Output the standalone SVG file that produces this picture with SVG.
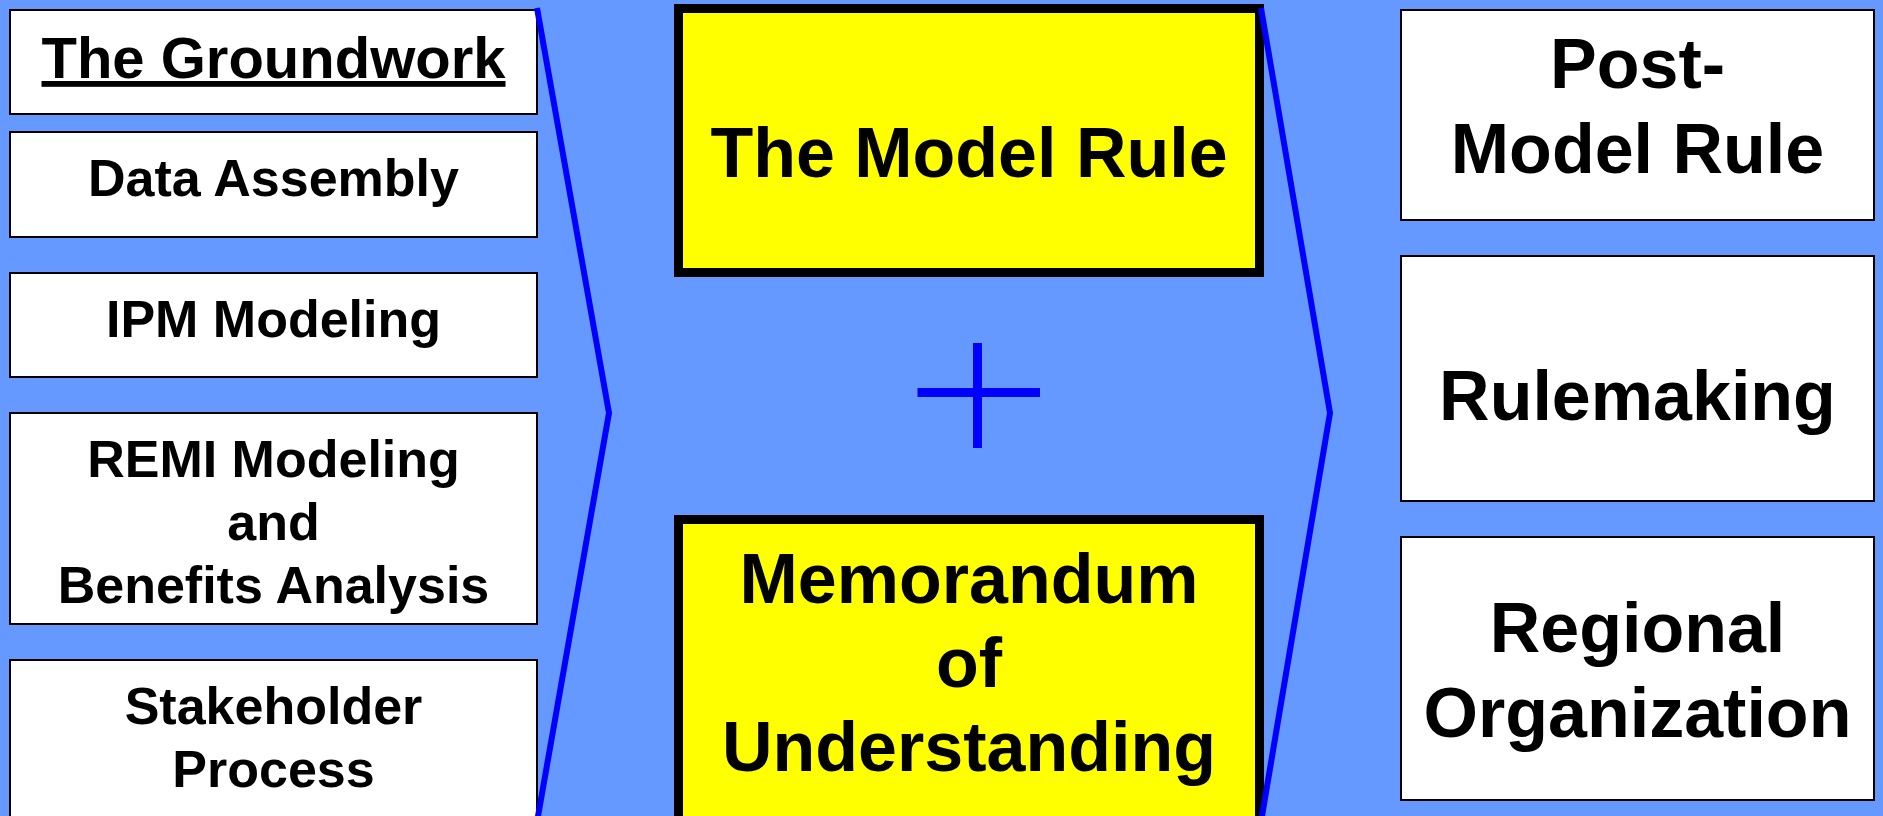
<svg xmlns="http://www.w3.org/2000/svg" width="1883" height="816" viewBox="0 0 1883 816">
<style>
.bg{fill:#6699FF}
.wbox{fill:#FFFFFF;stroke:#000000;stroke-width:2}
.ybox{fill:#FFFF00;stroke:#000000;stroke-width:9}
.t{font-family:"Liberation Sans",Arial,sans-serif;font-weight:bold;fill:#000000;text-anchor:middle}
.s52{font-size:52px}
.s58{font-size:58px}
.s70{font-size:70px}
.chev{fill:none;stroke:#0000FF;stroke-width:6;stroke-linejoin:round}
.plus{stroke:#0000FF;stroke-width:9;fill:none}
</style>
<rect class="bg" x="0" y="0" width="1883" height="816"/>

<g id="groundwork">
<rect class="wbox" x="10" y="10" width="527" height="104"/>
<text class="t s58" x="273.5" y="78" text-decoration="underline">The Groundwork</text>
</g>
<g id="data-assembly">
<rect class="wbox" x="10" y="132" width="527" height="105"/>
<text class="t s52" x="273.5" y="196">Data Assembly</text>
</g>
<g id="ipm-modeling">
<rect class="wbox" x="10" y="273" width="527" height="104"/>
<text class="t s52" x="273.5" y="337">IPM Modeling</text>
</g>
<g id="remi-modeling">
<rect class="wbox" x="10" y="413" width="527" height="211"/>
<text class="t s52" x="273.5" y="477">REMI Modeling</text>
<text class="t s52" x="273.5" y="540">and</text>
<text class="t s52" x="273.5" y="603">Benefits Analysis</text>
</g>
<g id="stakeholder">
<rect class="wbox" x="10" y="660" width="527" height="180"/>
<text class="t s52" x="273.5" y="724">Stakeholder</text>
<text class="t s52" x="273.5" y="787">Process</text>
</g>

<g id="model-rule">
<rect class="ybox" x="678.5" y="8.5" width="581" height="264"/>
<text class="t s70" x="969" y="177">The Model Rule</text>
</g>
<g id="mou">
<rect class="ybox" x="678.5" y="519.5" width="581" height="400"/>
<text class="t s70" x="969" y="603">Memorandum</text>
<text class="t s70" x="969" y="687">of</text>
<text class="t s70" x="969" y="771">Understanding</text>
</g>

<g id="post-model-rule">
<rect class="wbox" x="1401" y="10" width="473" height="210"/>
<text class="t s70" x="1637.5" y="88">Post-</text>
<text class="t s70" x="1637.5" y="173">Model Rule</text>
</g>
<g id="rulemaking">
<rect class="wbox" x="1401" y="256" width="473" height="245"/>
<text class="t s70" x="1637.5" y="420">Rulemaking</text>
</g>
<g id="regional-organization">
<rect class="wbox" x="1401" y="537" width="473" height="263"/>
<text class="t s70" x="1637.5" y="652">Regional</text>
<text class="t s70" x="1637.5" y="737">Organization</text>
</g>

<g id="connectors">
<polyline class="chev" points="537,8 609,413 537,822"/>
<polyline class="chev" points="1261,8 1330,413 1261,822"/>
<line class="plus" x1="977.5" y1="343" x2="977.5" y2="448"/>
<line class="plus" x1="917.5" y1="392.5" x2="1040" y2="392.5"/>
</g>
</svg>
